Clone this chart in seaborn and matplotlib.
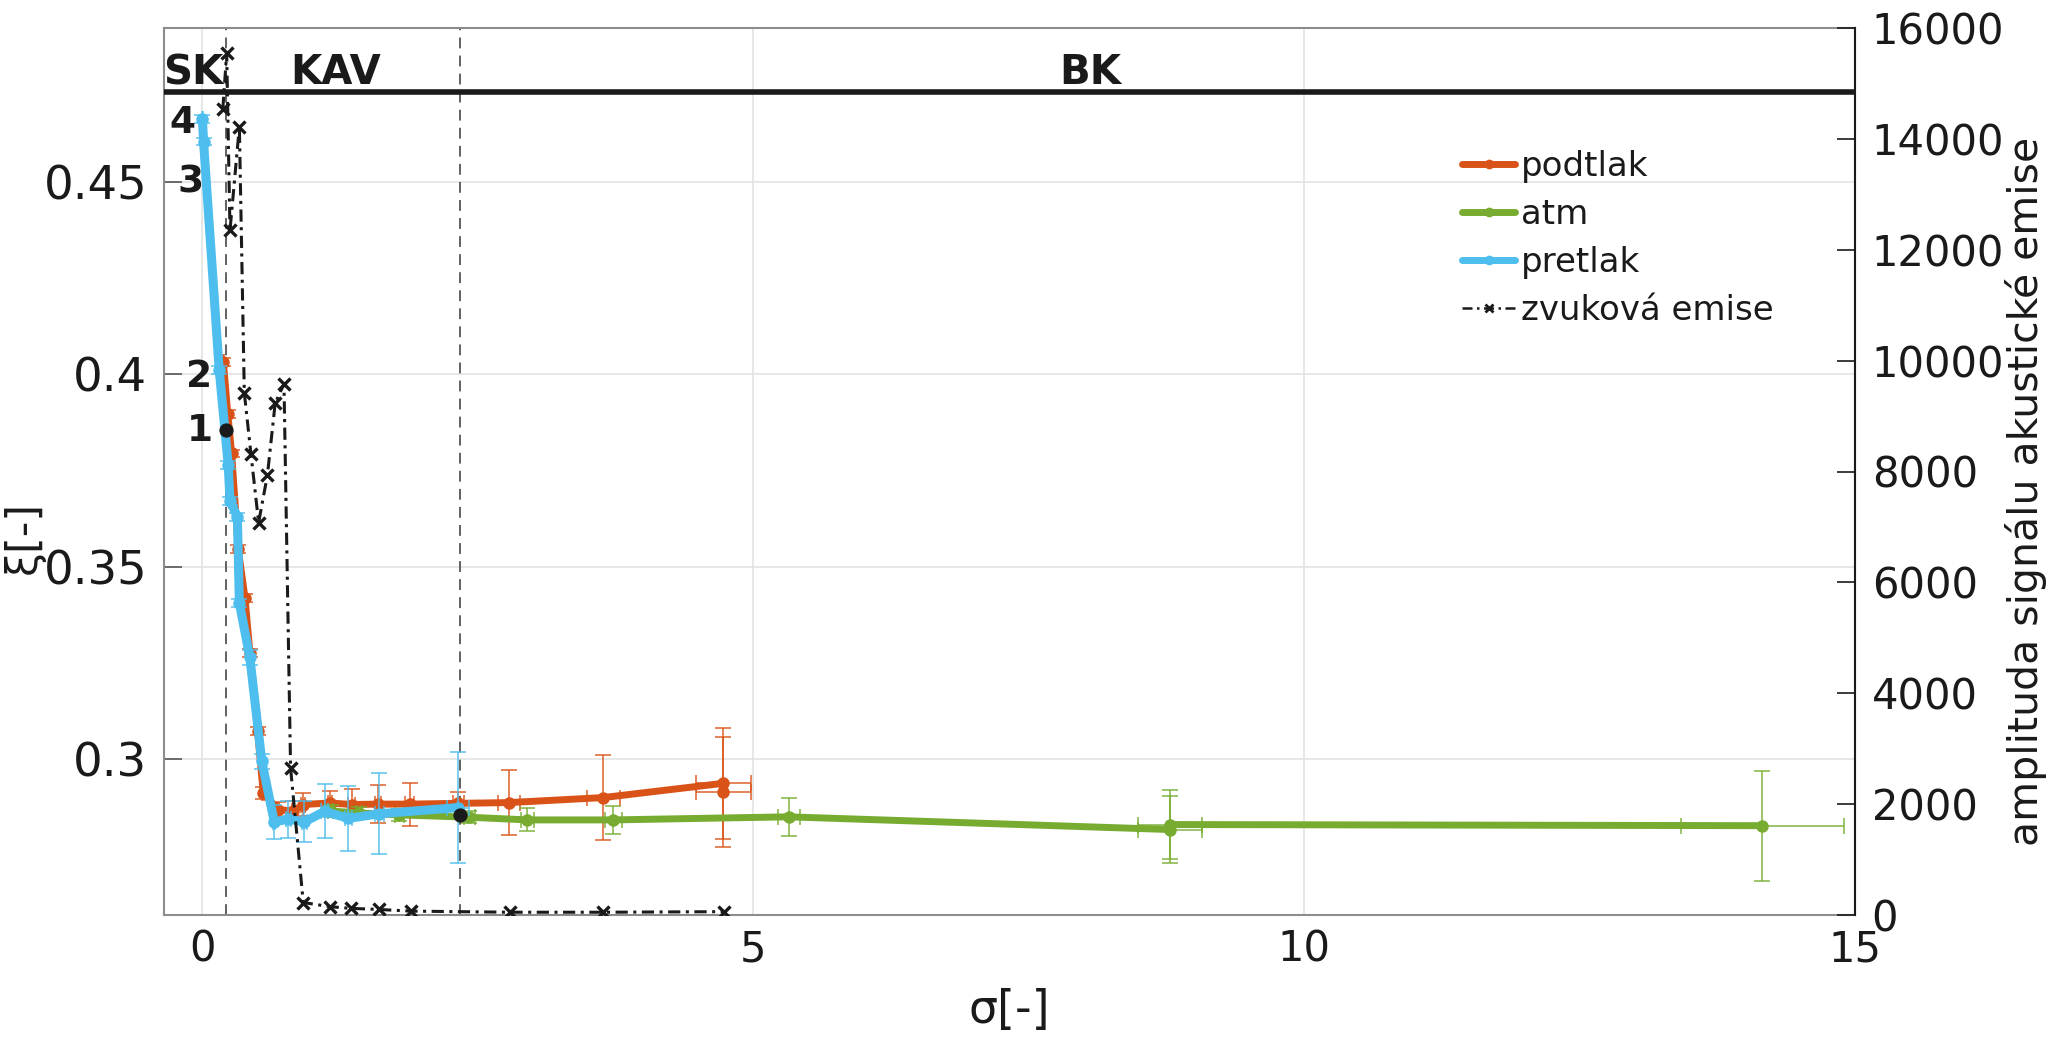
import numpy as np
import pandas as pd
import seaborn as sns
import matplotlib.pyplot as plt
from matplotlib.lines import Line2D

# ---- data ----
# podtlak (orange)
x_pod = [0.19, 0.23, 0.265, 0.325, 0.386, 0.431, 0.50, 0.552, 0.688, 0.824, 0.915, 1.157,
         1.354, 1.595, 1.883, 2.32, 2.784, 3.637, 4.726, 4.726]
y_pod = [0.4033, 0.3897, 0.3795, 0.3546, 0.342, 0.3277, 0.3074, 0.2913, 0.287, 0.2866, 0.2883,
         0.2887, 0.2883, 0.2884, 0.2884, 0.2886, 0.2888, 0.2901, 0.2938, 0.2915]
yerr_pod = [0.001, 0.001, 0.001, 0.001, 0.001, 0.001, 0.001, 0.0015, 0.002, 0.0025, 0.003,
            0.003, 0.0039, 0.0049, 0.0056, 0.003, 0.0084, 0.011, 0.0145, 0.0143]
xerr_pod = [0.005, 0.005, 0.005, 0.005, 0.005, 0.005, 0.005, 0.01, 0.01, 0.01, 0.02, 0.02,
            0.03, 0.03, 0.04, 0.05, 0.1, 0.15, 0.25, 0.25]

# atm (green)
x_atm = [1.163, 1.422, 1.787, 2.42, 2.95, 3.73, 5.32, 8.78, 8.78, 14.16]
y_atm = [0.2866, 0.2861, 0.2856, 0.285, 0.2843, 0.2843, 0.2851, 0.2818, 0.2831, 0.2828]
yerr_atm = [0.0015, 0.0015, 0.0015, 0.0015, 0.003, 0.0036, 0.005, 0.0088, 0.009, 0.0143]
xerr_atm = [0.02, 0.03, 0.04, 0.05, 0.06, 0.08, 0.1, 0.29, 0.29, 0.74]

# pretlak (blue)
x_pre = [0.0, 0.01, 0.152, 0.234, 0.25, 0.317, 0.335, 0.43, 0.539, 0.652, 0.78, 0.926,
         1.108, 1.325, 1.605, 2.32]
y_pre = [0.4663, 0.4605, 0.4012, 0.3765, 0.3672, 0.363, 0.3407, 0.3265, 0.2995, 0.2838,
         0.2845, 0.2838, 0.2865, 0.2847, 0.2859, 0.2875]
yerr_pre = [0.001, 0.001, 0.001, 0.001, 0.001, 0.001, 0.001, 0.002, 0.002, 0.0044, 0.0048,
            0.0053, 0.007, 0.0084, 0.0105, 0.0145]
xerr_pre = [0.005, 0.005, 0.005, 0.005, 0.005, 0.005, 0.005, 0.01, 0.01, 0.01, 0.02, 0.02,
            0.03, 0.03, 0.04, 0.1]

# zvuková emise (right axis)
x_em = [0.185, 0.22, 0.25, 0.335, 0.38, 0.44, 0.51, 0.59, 0.66, 0.74, 0.80, 0.915, 1.16,
        1.345, 1.60, 1.89, 2.79, 3.64, 4.73]
v_em = [14540, 15550, 12350, 14220, 9420, 8320, 7080, 7940, 9230, 9580, 2650, 225, 150,
        120, 100, 70, 50, 50, 60]

# marked points, regime borders, labels
x_dots = [0.21, 2.34]
y_dots = [0.3855, 0.2856]
borders = [0.21, 2.34]
regimes = ['SK', 'KAV', 'BK']
regime_x = [-0.08, 1.21, 8.06]
num_labels = ['4', '3', '2', '1']
num_x = [-0.18, -0.11, -0.03, -0.02]
num_y = [0.4652, 0.4498, 0.3994, 0.3852]

c_pod, c_atm, c_pre = '#D95319', '#77AC30', '#4DBEEE'

sns.set_theme(style='white')
plt.rcParams['font.family'] = ['DejaVu Sans']
plt.rcParams['text.color'] = 'k'
plt.rcParams['axes.labelcolor'] = 'k'

fig = plt.figure(figsize=(20.54, 10.38), dpi=100)
ax = fig.add_axes([164/2054, 1 - 915/1038, (1855 - 164)/2054, (915 - 28)/1038])

series = [(x_pod, y_pod, xerr_pod, yerr_pod, c_pod, 5, 'podtlak', 3),
          (x_atm, y_atm, xerr_atm, yerr_atm, c_atm, 5, 'atm', 4),
          (x_pre, y_pre, xerr_pre, yerr_pre, c_pre, 6.5, 'pretlak', 5)]
for xs, ys, xe, ye, c, lw, name, z in series:
    df = pd.DataFrame({'x': xs, 'y': ys})
    ax.errorbar(xs, ys, yerr=ye, xerr=xe, fmt='none', ecolor=c, elinewidth=1.2,
                capsize=6, capthick=1.2, alpha=0.85, zorder=z)
    sns.lineplot(data=df, x='x', y='y', sort=False, estimator=None, color=c, lw=lw,
                 marker='o', markersize=9, markeredgewidth=0, ax=ax, zorder=z, legend=False)

sns.scatterplot(x=x_dots, y=y_dots, color='k', s=90, edgecolor='k', ax=ax, zorder=7,
                legend=False)

for b in borders:
    ax.axvline(b, color='#555555', lw=1.3, ls=(0, (6, 4)), zorder=2)
ax.axhline(0.4734, color='k', lw=4, zorder=6)

for t, xx in zip(regimes, regime_x):
    ax.text(xx, 0.4783, t, ha='center', va='center', fontsize=29, fontweight='bold', zorder=8)
for t, xx, yy in zip(num_labels, num_x, num_y):
    ax.text(xx, yy, t, ha='center', va='center', fontsize=27, fontweight='bold', zorder=8)

ax.set_xlim(-0.349, 15)
ax.set_ylim(0.2596, 0.49)
ax.set_xticks([0, 5, 10, 15])
ax.set_yticks([0.3, 0.35, 0.4, 0.45])
ax.set_yticklabels(['0.3', '0.35', '0.4', '0.45'])
ax.grid(True, color='#e3e3e3', lw=1.2)
ax.set_axisbelow(True)
ax.tick_params(direction='in', length=13, width=1.2, color='#555555', labelcolor='k',
               labelsize=33.5, pad=12, right=False, top=False)
ax.tick_params(axis='x', pad=10, labelsize=30)
for s in ['left', 'bottom', 'top', 'right']:
    ax.spines[s].set_color('#8c8c8c')
    ax.spines[s].set_linewidth(1.5)
ax.set_xlabel('σ[-]', fontsize=33)
ax.set_ylabel('ξ[-]', fontsize=31)
ax.xaxis.set_label_coords(0.5, -0.108)
ax.yaxis.set_label_coords(-0.0828, 0.426)
ax.xaxis.label.set(va='center', ha='center')
ax.yaxis.label.set(va='center', ha='center')

ax2 = ax.twinx()
df_em = pd.DataFrame({'x': x_em, 'v': v_em})
sns.lineplot(data=df_em, x='x', y='v', sort=False, estimator=None, color='k', lw=2.2,
             marker='x', markersize=8, markeredgewidth=2.4, markeredgecolor='k',
             markerfacecolor='k', ax=ax2, legend=False)
ax2.lines[-1].set_dashes([4, 1.8, 1, 1.8])
ax2.set_ylim(0, 16000)
ax2.set_yticks(np.arange(0, 16001, 2000))
ax2.tick_params(direction='in', length=13, width=1.2, color='k', labelcolor='k',
                labelsize=30, pad=12)
ax2.spines['right'].set_color('k')
ax2.spines['right'].set_linewidth(1.5)
for s in ['left', 'bottom', 'top']:
    ax2.spines[s].set_visible(False)
ax2.grid(False)
ax2.set_ylabel('amplituda signálu akustické emise', fontsize=29.5)
ax2.yaxis.set_label_coords(1.101, 0.478)
ax2.yaxis.label.set(va='center', ha='center')

handles = [Line2D([], [], color=c_pod, lw=5, marker='o', ms=6),
           Line2D([], [], color=c_atm, lw=5, marker='o', ms=6),
           Line2D([], [], color=c_pre, lw=5, marker='o', ms=6),
           Line2D([], [], color='k', lw=1.8, ls=(0, (4, 1.8, 1, 1.8)), marker='x', ms=6,
                  mew=2, mec='k')]
ax2.legend(handles, ['podtlak', 'atm', 'pretlak', 'zvuková emise'], loc='upper left',
           bbox_to_anchor=(1462/2054, 1 - 150/1038), bbox_transform=fig.transFigure,
           frameon=False, fontsize=24.5, handlelength=1.57, handletextpad=0.15,
           labelspacing=0.44, borderpad=0, borderaxespad=0)

fig.savefig('out.png', dpi=100)
